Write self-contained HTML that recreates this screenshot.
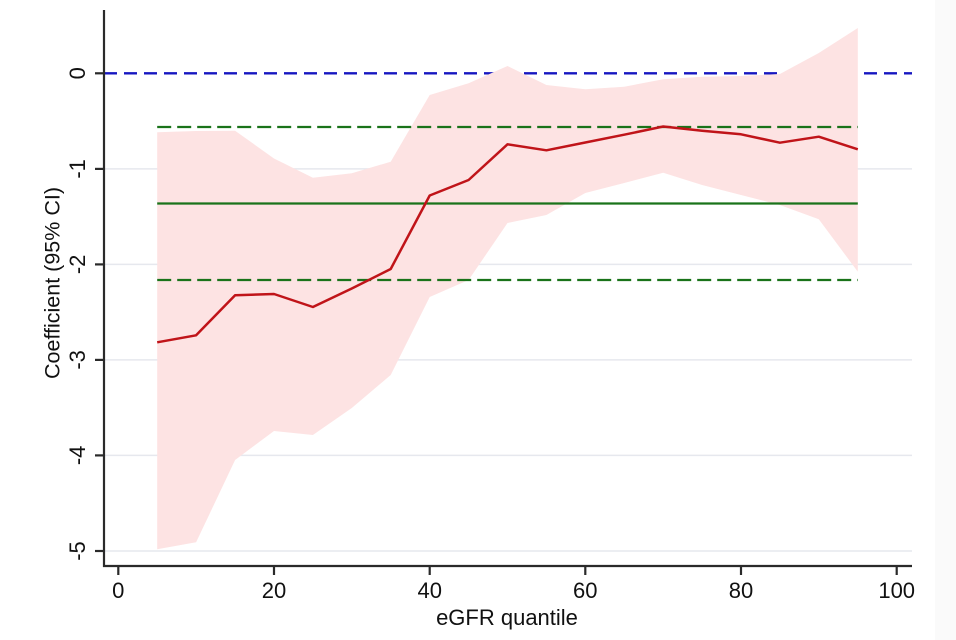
<!DOCTYPE html>
<html>
<head>
<meta charset="utf-8">
<style>
  html, body { margin: 0; padding: 0; background: #ffffff; }
  body { width: 956px; height: 640px; overflow: hidden; }
  svg { display: block; }
  text { font-family: "Liberation Sans", "DejaVu Sans", sans-serif; fill: #111; }
</style>
</head>
<body>
<svg width="956" height="640" viewBox="0 0 956 640" xmlns="http://www.w3.org/2000/svg">
  <rect x="0" y="0" width="956" height="640" fill="#ffffff"/>
  <rect x="935" y="0" width="21" height="640" fill="#fafafa"/>

  <!-- gridlines -->
  <g stroke="#e6e8ee" stroke-width="1.5">
    <line x1="104" y1="168.9" x2="912" y2="168.9"/>
    <line x1="104" y1="264.4" x2="912" y2="264.4"/>
    <line x1="104" y1="359.9" x2="912" y2="359.9"/>
    <line x1="104" y1="455.4" x2="912" y2="455.4"/>
    <line x1="104" y1="551" x2="912" y2="551"/>
  </g>

  <!-- zero reference line -->
  <line x1="104" y1="73.3" x2="912" y2="73.3" stroke="#1616c0" stroke-width="2.4" stroke-dasharray="13 7"/>

  <!-- confidence band -->
  <polygon fill="#fde3e3" points="
    157.2,132.3 196.1,131 235.1,130.7 274.0,158.5 312.9,177.7 351.8,173.3 390.7,161.7 429.7,95 468.6,83.3 507.5,66 546.4,85 585.3,89.3 624.2,86.7 663.2,79.3 702.1,76.7 741.0,76 779.9,74 818.8,53 857.8,28
    857.8,271.7 818.8,219.3 779.9,205 741.0,195 702.1,185 663.2,172.7 624.2,183 585.3,193 546.4,215 507.5,223 468.6,280 429.7,297 390.7,375 351.8,408 312.9,435 274.0,431 235.1,460 196.1,542.3 157.2,549.3"/>

  <!-- green lines -->
  <g stroke="#1a731a" stroke-width="2.3">
    <line x1="157.2" y1="127" x2="857.8" y2="127" stroke-dasharray="14 6"/>
    <line x1="157.2" y1="203.5" x2="857.8" y2="203.5"/>
    <line x1="157.2" y1="280" x2="857.8" y2="280" stroke-dasharray="14 6"/>
  </g>

  <!-- estimate line -->
  <polyline fill="none" stroke="#c01419" stroke-width="2.5" stroke-linejoin="round" points="
    157.2,342.3 196.1,335.3 235.1,295.3 274.0,294 312.9,307 351.8,288.5 390.7,269 429.7,195.5 468.6,180 507.5,144.3 546.4,150.3 585.3,142.5 624.2,134.7 663.2,126.5 702.1,130.7 741.0,134.3 779.9,142.7 818.8,136.7 857.8,149.3"/>

  <!-- axes -->
  <g stroke="#2a2a2a" stroke-width="2.2">
    <line x1="104" y1="10" x2="104" y2="567"/>
    <line x1="103" y1="566" x2="912" y2="566"/>
    <!-- y ticks -->
    <line x1="95" y1="73.3" x2="104" y2="73.3"/>
    <line x1="95" y1="168.9" x2="104" y2="168.9"/>
    <line x1="95" y1="264.4" x2="104" y2="264.4"/>
    <line x1="95" y1="359.9" x2="104" y2="359.9"/>
    <line x1="95" y1="455.4" x2="104" y2="455.4"/>
    <line x1="95" y1="551" x2="104" y2="551"/>
    <!-- x ticks -->
    <line x1="118.3" y1="566" x2="118.3" y2="575"/>
    <line x1="274" y1="566" x2="274" y2="575"/>
    <line x1="429.7" y1="566" x2="429.7" y2="575"/>
    <line x1="585.3" y1="566" x2="585.3" y2="575"/>
    <line x1="741" y1="566" x2="741" y2="575"/>
    <line x1="896.7" y1="566" x2="896.7" y2="575"/>
  </g>

  <!-- y tick labels (rotated) -->
  <g font-size="22" text-anchor="middle">
    <text transform="translate(85,73.3) rotate(-90)">0</text>
    <text transform="translate(85,168.9) rotate(-90)">-1</text>
    <text transform="translate(85,264.4) rotate(-90)">-2</text>
    <text transform="translate(85,359.9) rotate(-90)">-3</text>
    <text transform="translate(85,455.4) rotate(-90)">-4</text>
    <text transform="translate(85,551) rotate(-90)">-5</text>
  </g>

  <!-- x tick labels -->
  <g font-size="22" text-anchor="middle">
    <text x="118.3" y="598">0</text>
    <text x="274" y="598">20</text>
    <text x="429.7" y="598">40</text>
    <text x="585.3" y="598">60</text>
    <text x="741" y="598">80</text>
    <text x="896.7" y="598">100</text>
  </g>

  <!-- axis titles -->
  <text x="507" y="625" font-size="22" text-anchor="middle">eGFR quantile</text>
  <text transform="translate(59.5,283) rotate(-90)" font-size="21.5" text-anchor="middle">Coefficient (95% CI)</text>
</svg>
</body>
</html>
